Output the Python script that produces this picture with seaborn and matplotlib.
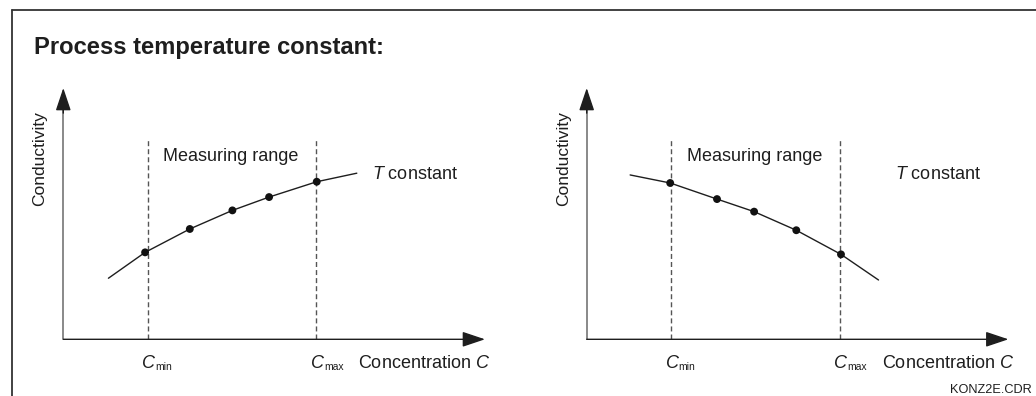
import matplotlib
matplotlib.use('Agg')
import matplotlib.pyplot as plt
import seaborn as sns
from matplotlib.lines import Line2D

# data (arbitrary units, 0..10 on both axes)
c_min = 2.0
c_max = 6.0
range_top = 8.0

# left panel: conductivity rising with concentration
dots_left_x = [1.94, 3.00, 4.01, 4.88, 6.01]
dots_left_y = [3.46, 4.39, 5.13, 5.66, 6.27]
curve_left_x = [1.07, 1.94, 3.00, 4.01, 4.88, 6.01, 6.96]
curve_left_y = [2.43, 3.46, 4.39, 5.13, 5.66, 6.27, 6.61]

# right panel: conductivity falling with concentration
dots_right_x = [1.98, 3.09, 3.97, 4.97, 6.03]
dots_right_y = [6.22, 5.58, 5.08, 4.34, 3.38]
curve_right_x = [1.03, 1.98, 3.09, 3.97, 4.97, 6.03, 6.92]
curve_right_y = [6.54, 6.22, 5.58, 5.08, 4.34, 3.38, 2.36]

title = 'Process temperature constant:'
y_label = 'Conductivity'
x_label = 'Concentration $C$'
range_label = 'Measuring range'
curve_label = '$T$ constant'
tick_subs = ['min', 'max']
file_tag = 'KONZ2E.CDR'

sns.set_theme(style='white')
plt.rcParams['font.family'] = ['Liberation Sans', 'DejaVu Sans']
plt.rcParams['mathtext.fontset'] = 'custom'
plt.rcParams['mathtext.rm'] = 'Liberation Sans'
plt.rcParams['mathtext.it'] = 'Liberation Sans:italic'

W, H = 1036, 396
fig = plt.figure(figsize=(W / 100, H / 100), dpi=100)
ink = '#1e1e1e'


def fx(x):
    return x / W


def fy(y):
    return 1 - y / H


def panel(left_px, curve_x, curve_y, dots_x, dots_y):
    ax = fig.add_axes([fx(left_px), fy(339.3), 421.7 / W, 251.3 / H])
    ax.set_xlim(0, 10)
    ax.set_ylim(0, 10)
    ax.axis('off')
    # axes with arrow heads
    arrow = dict(arrowstyle='-|>,head_length=1.4,head_width=0.47', color=ink,
                 lw=1.0, shrinkA=0, shrinkB=0, mutation_scale=10)
    ax.annotate('', xy=(10, 0), xytext=(0, 0), arrowprops=arrow, annotation_clip=False)
    ax.plot([0, 0], [0, 9.5], color='#6a6a6a', lw=1.1, clip_on=False)
    ax.annotate('', xy=(0, 10), xytext=(0, 9.0), arrowprops=arrow, annotation_clip=False)
    # measuring range limits
    ax.vlines([c_min, c_max], 0, range_top, colors='#555555', lw=1.0,
              linestyles=(0, (3.6, 2.2)))
    sns.lineplot(x=curve_x, y=curve_y, ax=ax, color=ink, lw=1.0,
                 sort=False, estimator=None)
    sns.scatterplot(x=dots_x, y=dots_y, ax=ax, color='#111111', s=32,
                    edgecolor='none', zorder=3)
    for c, sub in zip([c_min, c_max], tick_subs):
        ax.annotate('C', xy=(c, 0), xytext=(-5.5, -28.4), textcoords='offset pixels',
                    ha='left', va='baseline', fontsize=13, style='italic',
                    color=ink, annotation_clip=False)
        ax.annotate(sub, xy=(c, 0), xytext=(7.5, -30.5), textcoords='offset pixels',
                    ha='left', va='baseline', fontsize=7.5, color=ink,
                    annotation_clip=False)
    return ax


panel(63.3, curve_left_x, curve_left_y, dots_left_x, dots_left_y)
panel(586.7, curve_right_x, curve_right_y, dots_right_x, dots_right_y)

# texts
fig.text(fx(34), fy(54.3), title, fontsize=17.1, fontweight='bold', color=ink,
         va='baseline')
for x0 in [163.3, 686.7]:
    fig.text(fx(x0), fy(160.7), range_label, fontsize=13, color=ink, va='baseline')
for x0 in [371.7, 895]:
    fig.text(fx(x0), fy(179.3), curve_label, fontsize=13, color=ink, va='baseline')
for x0 in [358.3, 881.7]:
    fig.text(fx(x0), fy(367.7), x_label, fontsize=13, color=ink, va='baseline')
for x0 in [40, 563.3]:
    fig.text(fx(x0), fy(158.5), y_label, fontsize=12.5, color=ink, rotation=90,
             ha='center', va='center')
fig.text(fx(1031.7), fy(392.7), file_tag, fontsize=9.2, color=ink,
         ha='right', va='baseline')

# frame (top and left edges only)
fig.add_artist(Line2D([fx(11.7), 1], [fy(10), fy(10)], color='#333333', lw=1.3))
fig.add_artist(Line2D([fx(11.7), fx(11.7)], [fy(10), 0], color='#333333', lw=1.3))

fig.savefig('out.png', dpi=100)
